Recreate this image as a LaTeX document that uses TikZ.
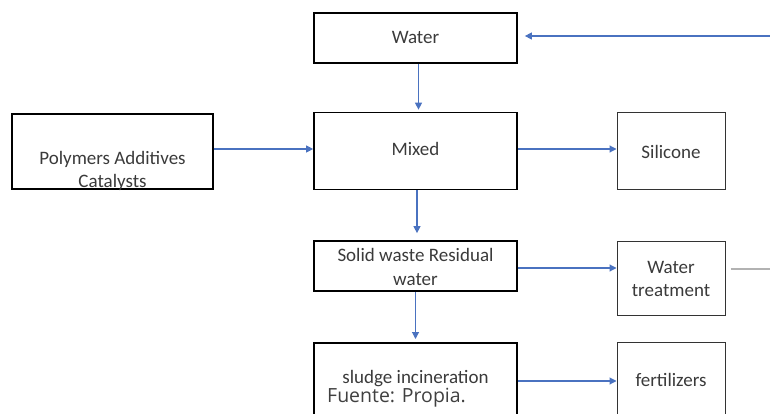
\documentclass[tikz,border=0pt]{standalone}
\usepackage{fontspec}
\setmainfont{Carlito}
\newfontfamily\srcfont{Open Sans}
\usetikzlibrary{arrows.meta}
\definecolor{arrowblue}{HTML}{4A72C0}
\definecolor{txtgray}{HTML}{3A3A3A}
\tikzset{
  mainbox/.style={draw=black, line width=1.7pt, inner sep=0pt},
  sidebox/.style={draw=black!80, line width=1pt, inner sep=0pt},
  lbl/.style={font=\fontsize{19}{23.5}\selectfont, text=txtgray, align=center, inner sep=0pt},
  flow/.style={draw=arrowblue, line width=1.1pt, -{Triangle[length=7pt,width=7pt]}},
  plain/.style={draw=black!30, line width=1.2pt}
}
\begin{document}
\begin{tikzpicture}[x=1pt,y=-1pt]
\useasboundingbox (0,0) rectangle (770,414);
% boxes
\node[mainbox, minimum width=203pt, minimum height=50pt] (water) at (415.5,38) {};
\node[mainbox, line width=1.3pt, minimum width=201pt, minimum height=75pt] (poly) at (112.5,151.5) {};
\node[mainbox, minimum width=203pt, minimum height=77pt] (mixed) at (415.5,151) {};
\node[sidebox, minimum width=108pt, minimum height=76pt] (sil) at (671,151) {};
\node[mainbox, minimum width=203pt, minimum height=50pt] (solid) at (415.5,266) {};
\node[sidebox, minimum width=108pt, minimum height=74pt] (wt) at (671,278) {};
\node[mainbox, minimum width=203pt, minimum height=90pt, anchor=north] (sludge) at (415.5,342) {};
\node[sidebox, minimum width=108pt, minimum height=90pt, anchor=north] (fert) at (671,342) {};
% texts
\node[lbl] (twater) at (415.5,37) {Water};
\node[lbl] (tpoly) at (112.5,171) {Polymers Additives\\Catalysts};
\node[lbl] (tmixed) at (415.5,149) {Mixed};
\node[lbl] (tsil) at (671,152) {Silicone};
\node[lbl] (tsolid) at (415.5,267) {Solid waste Residual\\water};
\node[lbl] (twt) at (671,279) {Water\\treatment};
\node[lbl] (tsludge) at (415.5,379) {sludge incineration};
\node[lbl] (tfert) at (671,380) {fertilizers};
\node[font=\srcfont\fontsize{19.5}{22}\selectfont, text=black!75, anchor=west, inner sep=0pt] (src) at (327,398) {Fuente: Propia.};
% connectors
\coordinate (rtop) at (770,36);
\coordinate (rmid) at (770,269);
\draw[flow] (rtop) -- ([xshift=7pt]water.east |- rtop);
\draw[flow] ([xshift=3pt]water.south) -- ([xshift=3pt,yshift=2pt]mixed.north);
\draw[flow] (poly.east |- 0,149) -- (mixed.west |- 0,149);
\draw[flow] (mixed.east |- 0,149) -- (sil.west |- 0,149);
\draw[flow] ([xshift=1.5pt]mixed.south) -- ([xshift=1.5pt,yshift=7pt]solid.north);
\draw[flow] (solid.east |- 0,268) -- (wt.west |- 0,268);
\draw[flow] (solid.south) -- ([yshift=3pt]sludge.north);
\draw[flow] (sludge.east |- 0,381) -- (fert.west |- 0,381);
\draw[plain] ([xshift=5pt]wt.east |- rmid) -- (rmid);
\end{tikzpicture}
\end{document}
